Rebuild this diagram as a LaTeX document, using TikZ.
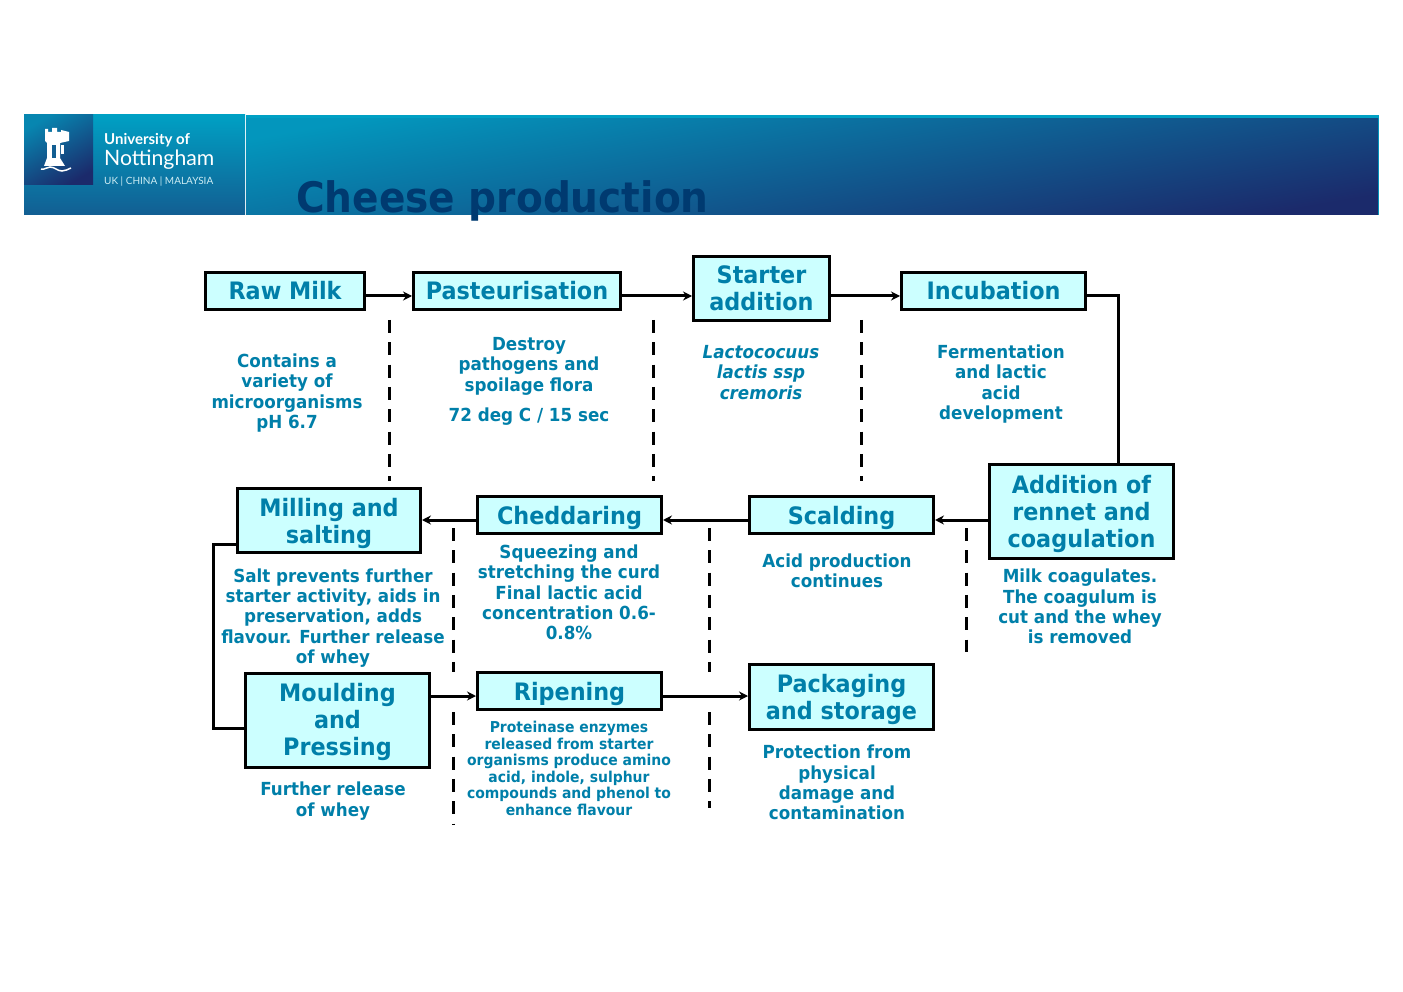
\documentclass[tikz,border=0pt]{standalone}
\usepackage{fontspec}
\setmainfont[FakeStretch=0.93]{DejaVu Sans}
\newfontfamily\logofont{Lato}
\usetikzlibrary{arrows.meta}
\definecolor{boxfill}{HTML}{CCFFFF}
\definecolor{boxtext}{HTML}{007FA9}
\definecolor{titletext}{HTML}{003A70}
\definecolor{barlight}{HTML}{00A0C4}
\definecolor{bardark}{HTML}{1B2A6B}
\definecolor{barmid}{HTML}{125E92}
\tikzset{
	stagebox/.style={draw=black, fill=boxfill, line width=3pt, align=center, text=boxtext,
		font=\fontsize{24}{27}\selectfont\bfseries, inner sep=0pt,
		execute at begin node={\rule{0pt}{24pt}}, execute at end node={\rule[-6pt]{0pt}{6pt}}},
	stackbox/.style={stagebox, execute at begin node={\rule{0pt}{#1}}},
	stagenote/.style={align=center, text=boxtext, inner sep=0pt,
		font=\fontsize{18}{20.3}\selectfont\bfseries},
	smallnote/.style={stagenote, font=\fontsize{15}{16.6}\selectfont\bfseries},
	flow/.style={line width=3pt, -{Stealth[length=9pt,width=9pt]}},
	link/.style={line width=3pt, line join=miter},
	divider/.style={line width=3pt, dash pattern=on 13pt off 9.3pt},
}
\begin{document}
\begin{tikzpicture}[x=1pt, y=-1pt]
	\useasboundingbox (0,0) rectangle (1403,992);

	% banner
	\fill[barlight] (246,115) rectangle (1379,215);
	\shade[top color=barlight!85!barmid, bottom color=bardark, shading angle=10] (246,119) rectangle (1378,215);
	\shade[top color=barlight, bottom color=barmid] (24,115) rectangle (245,215);
	\shade[top color=barlight!60!barmid, bottom color=bardark, shading angle=30] (24,115) rectangle (93,185);

	% castle
	\fill[white] (45,129) -- (48,129) -- (48,132) -- (52,132) -- (52,128) -- (57,128) -- (57,132) -- (61,132)
		-- (61,130) -- (69,132) -- (69,141) -- (60,143) -- (60,158) -- (65,166) -- (44,166) -- (47,158) -- (47,143) -- (45,141) -- cycle;
	\fill[barmid] (52,145) rectangle (56,158);
	\fill[white] (61,145) rectangle (64,154);
	\draw[white, line width=1.5pt] (41,169) to[out=-20, in=180] (50,167) to[out=0, in=180] (62,171) to[out=0, in=200] (71,168);

	\node[text=white, anchor=west, inner sep=0pt, font=\logofont\fontsize{15}{15}\selectfont\bfseries] (univ) at (104,140) {University of};
	\node[text=white, anchor=west, inner sep=0pt, font=\logofont\fontsize{21.2}{21.2}\selectfont] (nott) at (104,160) {Nottingham};
	\node[text=white!80!barlight, anchor=west, inner sep=0pt, font=\logofont\fontsize{10}{10}\selectfont] (places) at (104,182) {UK | CHINA | MALAYSIA};

	\node[text=titletext, anchor=west, inner sep=0pt, font=\fontsize{42}{42}\selectfont\bfseries] (title) at (296,201) {Cheese production};

	% stages, top row
	\node[stagebox, minimum width=159pt, minimum height=37pt] (raw) at (285,291) {Raw Milk};
	\node[stagebox, minimum width=207pt, minimum height=37pt] (past) at (517,291) {Pasteurisation};
	\node[stackbox=51pt, minimum width=136pt, minimum height=64pt] (starter) at (761.5,288.5) {Starter\\addition};
	\node[stagebox, minimum width=184pt, minimum height=37pt] (incub) at (993.5,291) {Incubation};

	% stages, middle row
	\node[stackbox=78pt, minimum width=184pt, minimum height=94pt] (rennet) at (1081.5,511.5) {Addition of\\rennet and\\coagulation};
	\node[stagebox, minimum width=184pt, minimum height=37pt] (scald) at (841.5,515) {Scalding};
	\node[stagebox, minimum width=184pt, minimum height=37pt] (chedd) at (569.5,515) {Cheddaring};
	\node[stackbox=51pt, minimum width=183pt, minimum height=64pt] (mill) at (329,520.5) {Milling and\\salting};

	% stages, bottom row
	\node[stackbox=76pt, minimum width=184pt, minimum height=94pt] (mould) at (337.5,720.5) {Moulding\\and\\Pressing};
	\node[stagebox, minimum width=184pt, minimum height=37pt] (ripen) at (569.5,691) {Ripening};
	\node[stackbox=51pt, minimum width=184pt, minimum height=65pt] (pack) at (841.5,697) {Packaging\\and storage};

	% notes
	\node[stagenote] (rawnote) at (287,393) {Contains a\\variety of\\microorganisms\\pH 6.7};
	\node[stagenote] (pastnote) at (529,381.5) {Destroy\\pathogens and\\spoilage flora\\[10.5pt]72 deg C / 15 sec};
	\node[stagenote, font=\fontsize{18}{20.3}\selectfont\bfseries\itshape] (starternote) at (761,372.5) {Lactococuus\\lactis ssp\\cremoris};
	\node[stagenote] (incubnote) at (1001,384) {Fermentation\\and lactic\\acid\\development};
	\node[stagenote] (rennetnote) at (1080,606.5) {Milk coagulates.\\The coagulum is\\cut and the whey\\is removed};
	\node[stagenote] (scaldnote) at (837,570.5) {Acid production\\continues};
	\node[stagenote] (chednote) at (569,592.5) {Squeezing and\\stretching the curd\\Final lactic acid\\concentration 0.6-\\0.8\%};
	\node[stagenote] (millnote) at (333,618) {Salt prevents further\\starter activity, aids in\\preservation, adds\\flavour. Further release\\of whey};
	\node[stagenote] (mouldnote) at (333,801) {Further release\\of whey};
	\node[smallnote] (ripennote) at (569,768.5) {Proteinase enzymes\\released from starter\\organisms produce amino\\acid, indole, sulphur\\compounds and phenol to\\enhance flavour};
	\node[stagenote] (packnote) at (837,782.5) {Protection from\\physical\\damage and\\contamination};

	% flow
	\draw[flow] ([yshift=-5pt]raw.east) -- ([yshift=-5pt]past.west);
	\draw[flow] ([yshift=-5pt]past.east) -- ([yshift=-5pt]past.east -| starter.west);
	\draw[flow] ([yshift=-5pt]incub.west -| starter.east) -- ([yshift=-5pt]incub.west);
	\coordinate (bendtop) at (1118,296);
	\draw[link] ([yshift=-5pt]incub.east) -- (bendtop) -- (bendtop |- rennet.north);
	\draw[flow] ([yshift=-5pt]scald.east -| rennet.west) -- ([yshift=-5pt]scald.east);
	\draw[flow] ([yshift=-5pt]scald.west) -- ([yshift=-5pt]chedd.east);
	\draw[flow] ([yshift=-5pt]chedd.west) -- ([yshift=-5pt]chedd.west -| mill.east);
	\coordinate (bendleft) at (213,544);
	\coordinate (bendlow) at (213,728);
	\draw[link] (bendleft -| mill.west) -- (bendleft) -- (bendlow) -- (bendlow -| mould.west);
	\draw[flow] ([yshift=-5pt]ripen.west -| mould.east) -- ([yshift=-5pt]ripen.west);
	\draw[flow] ([yshift=-5pt]ripen.east) -- ([yshift=-5pt]ripen.east -| pack.west);

	% dividers
	\foreach \xpos/\ytop/\ybot in {389/320/481, 653/320/481, 861/320/481, 453/528/672, 453/712/825, 709/528/672, 709/712/808, 966/528/652}{
		\draw[divider] (\xpos,\ytop) -- (\xpos,\ybot);
	}
\end{tikzpicture}
\end{document}
